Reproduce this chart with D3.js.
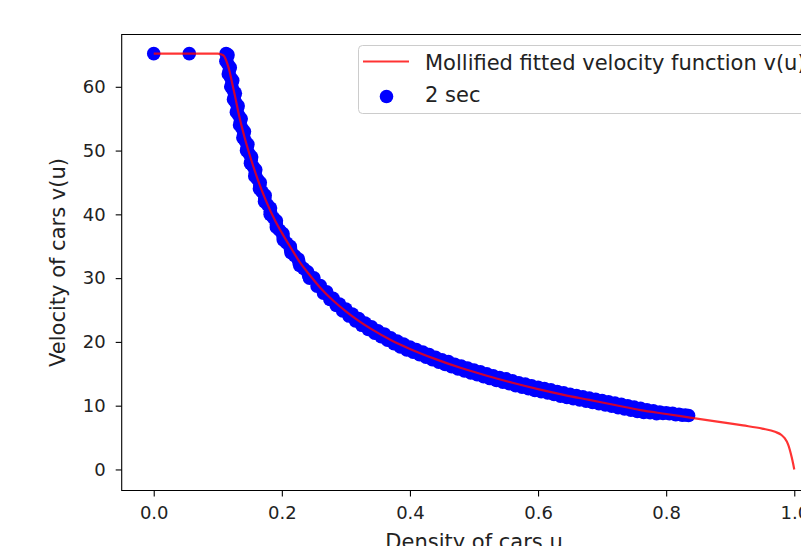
<!DOCTYPE html>
<html>
<head>
<meta charset="utf-8">
<script src="https://cdn.jsdelivr.net/npm/d3@7"></script>
<style>
  body { margin: 0; background: #fff; }
  svg { display: block; font-family: "DejaVu Sans", sans-serif; }
</style>
</head>
<body>
<div id="chart"></div>
<script>
let densityPts = [0.0, 0.0555,
    0.113, 0.116, 0.1127, 0.1195, 0.1164, 0.1233, 0.1203, 0.1274, 0.1246, 0.1318, 0.1291,
    0.1365, 0.134, 0.1416, 0.1392, 0.147, 0.1449, 0.1529, 0.151, 0.1593, 0.1577, 0.1663,
    0.165, 0.1739, 0.173, 0.1823, 0.1818, 0.1915, 0.1914, 0.2017, 0.2022, 0.2131, 0.2143,
    0.2258, 0.2278, 0.2402, 0.2432,
    0.1143, 0.1161, 0.1179, 0.1198, 0.1218, 0.1239, 0.126, 0.1282, 0.1304, 0.1328, 0.1352,
    0.1378, 0.1404, 0.1431, 0.1459, 0.1489, 0.152, 0.1552, 0.1585, 0.162, 0.1656, 0.1694,
    0.1734, 0.1776, 0.182, 0.1866, 0.1914, 0.1965, 0.2019, 0.2076, 0.2136, 0.22, 0.2268,
    0.234, 0.2416,
    0.25, 0.255, 0.26, 0.265, 0.27, 0.275, 0.28, 0.285, 0.29, 0.295, 0.3, 0.305, 0.31, 0.315,
    0.32, 0.325, 0.33, 0.335, 0.34, 0.345, 0.35, 0.355, 0.36, 0.365, 0.37, 0.375, 0.38, 0.385,
    0.39, 0.395, 0.4, 0.405, 0.41, 0.415, 0.42, 0.425, 0.43, 0.435, 0.44, 0.445, 0.45, 0.455,
    0.46, 0.465, 0.47, 0.475, 0.48, 0.485, 0.49, 0.495, 0.5, 0.505, 0.51, 0.515, 0.52, 0.525,
    0.53, 0.535, 0.54, 0.545, 0.55, 0.555, 0.56, 0.565, 0.57, 0.575, 0.58, 0.585, 0.59, 0.595,
    0.6, 0.605, 0.61, 0.615, 0.62, 0.625, 0.63, 0.635, 0.64, 0.645, 0.65, 0.655, 0.66, 0.665,
    0.67, 0.675, 0.68, 0.685, 0.69, 0.695, 0.7, 0.705, 0.71, 0.715, 0.72, 0.725, 0.73, 0.735,
    0.74, 0.745, 0.75, 0.755, 0.76, 0.765, 0.77, 0.775, 0.78, 0.785, 0.79, 0.795, 0.8, 0.805,
    0.81, 0.815, 0.82, 0.825, 0.83, 0.835];
let velocityPts = [65.2, 65.2,
    65.2, 65.0, 64.0, 63.0, 62.0, 61.0, 60.0, 59.0, 58.0, 57.0, 56.0,
    55.0, 54.0, 53.0, 52.0, 51.0, 50.0, 49.0, 48.0, 47.0, 46.0, 45.0,
    44.0, 43.0, 42.0, 41.0, 40.0, 39.0, 38.0, 37.0, 36.0, 35.0, 34.0,
    33.0, 32.0, 31.0, 30.0,
    64.5, 63.5, 62.5, 61.5, 60.5, 59.5, 58.5, 57.5, 56.5, 55.5, 54.5,
    53.5, 52.5, 51.5, 50.5, 49.5, 48.5, 47.5, 46.5, 45.5, 44.5, 43.5,
    42.5, 41.5, 40.5, 39.5, 38.5, 37.5, 36.5, 35.5, 34.5, 33.5, 32.5,
    31.5, 30.5,
    30.05, 28.75, 28.85, 27.65, 27.85, 26.65, 26.85, 25.7, 25.95, 24.85, 25.15, 24.05, 24.35, 23.3,
    23.65, 22.6, 22.95, 21.95, 22.35, 21.35, 21.75, 20.8, 21.25, 20.25, 20.65, 19.7, 20.15, 19.2,
    19.65, 18.75, 19.2, 18.4, 18.8, 18.0, 18.4, 17.6, 18.0, 17.2, 17.6, 16.8, 17.2, 16.45,
    16.9, 16.1, 16.5, 15.75, 16.2, 15.45, 15.9, 15.15, 15.6, 14.85, 15.3, 14.55, 15.0, 14.25,
    14.7, 13.95, 14.4, 13.7, 14.2, 13.45, 13.9, 13.15, 13.6, 12.9, 13.4, 12.65, 13.1, 12.4,
    12.9, 12.2, 12.7, 12.0, 12.5, 11.75, 12.2, 11.5, 12.0, 11.3, 11.8, 11.1, 11.6, 10.9,
    11.4, 10.7, 11.2, 10.5, 11.0, 10.3, 10.8, 10.1, 10.6, 9.9, 10.4, 9.7, 10.2, 9.5,
    10.0, 9.3, 9.8, 9.1, 9.6, 8.95, 9.35, 8.9, 9.2, 8.75, 9.0, 8.8, 8.9, 8.75,
    8.8, 8.6, 8.65, 8.5, 8.55, 8.45];

/** mollified fitted velocity function */
let curveU = [0.0, 0.05, 0.1, 0.105, 0.109, 0.112, 0.115, 0.118, 0.122, 0.127, 0.133, 0.142,
    0.152, 0.163, 0.175, 0.19, 0.2, 0.215, 0.228, 0.245, 0.26, 0.28, 0.3, 0.32, 0.34, 0.37,
    0.4, 0.44, 0.48, 0.52, 0.56, 0.6, 0.64, 0.68, 0.72, 0.76, 0.8, 0.84, 0.88, 0.92, 0.95,
    0.97, 0.98, 0.985, 0.99, 0.993, 0.996, 0.998, 1.0];
let curveV = [65.2, 65.2, 65.2, 65.1, 64.9, 64.4, 63.6, 62.6, 60.8, 58.5, 55.6, 52.0,
    48.6, 45.3, 42.2, 38.9, 37.1, 34.6, 32.5, 30.3, 28.5, 26.5, 24.8, 23.3, 22.0, 20.3,
    18.9, 17.3, 15.9, 14.7, 13.6, 12.6, 11.7, 10.9, 10.1, 9.3, 8.7, 8.1, 7.5, 6.9, 6.4,
    5.9, 5.4, 4.9, 4.0, 3.1, 1.9, 1.0, 0.0];

let xTicks = [0.0, 0.2, 0.4, 0.6, 0.8, 1.0];
let yTicks = [0, 10, 20, 30, 40, 50, 60];

let width = 801, height = 546;
let tickFont = '18px', labelFont = '21px';

let svg = d3.select('#chart').append('svg')
    .attr('width', width)
    .attr('height', height);

/** scales: right spine lies outside the picture */
let xScale = d3.scaleLinear().domain([-0.05, 1.05]).range([121.7, 826.3]);
let yScale = d3.scaleLinear().domain([-3.3, 68.2]).range([490.5, 34.5]);

svg.append('defs').append('clipPath').attr('id', 'plotClip')
    .append('rect')
    .attr('x', xScale.range()[0]).attr('y', yScale.range()[1])
    .attr('width', xScale.range()[1] - xScale.range()[0])
    .attr('height', yScale.range()[0] - yScale.range()[1]);

let plot = svg.append('g').attr('clip-path', 'url(#plotClip)');

/** scatter points */
let pts = densityPts.map((u, i) => ({ u: u, v: velocityPts[i] }));
plot.selectAll('.dot')
    .data(pts)
    .enter()
    .append('circle')
    .attr('class', 'dot')
    .attr('cx', d => xScale(d.u))
    .attr('cy', d => yScale(d.v))
    .attr('r', 6.8)
    .attr('fill', '#0000ff');

/** fitted line on top */
let line = d3.line()
    .x(d => xScale(d[0]))
    .y(d => yScale(d[1]))
    .curve(d3.curveMonotoneX);

plot.append('path')
    .datum(curveU.map((u, i) => [u, curveV[i]]))
    .attr('d', line)
    .attr('fill', 'none')
    .attr('stroke', '#ff0000')
    .attr('stroke-opacity', 0.8)
    .attr('stroke-width', 2.2);

/** axes */
let xAxis = d3.axisBottom(xScale).tickValues(xTicks).tickFormat(d3.format('.1f'))
    .tickSize(6).tickPadding(10);
let yAxis = d3.axisLeft(yScale).tickValues(yTicks).tickFormat(d3.format('d'))
    .tickSize(6).tickPadding(10);

let gx = svg.append('g')
    .attr('transform', `translate(0, ${yScale.range()[0]})`)
    .call(xAxis);
let gy = svg.append('g')
    .attr('transform', `translate(${xScale.range()[0]}, 0)`)
    .call(yAxis);

[gx, gy].forEach(g => {
    g.select('.domain').remove();
    g.selectAll('.tick line').attr('stroke', '#000').attr('stroke-width', 1.1);
    g.selectAll('.tick text').attr('fill', '#222').style('font-size', tickFont)
        .style('font-family', '"DejaVu Sans", sans-serif');
});

/** spines: left, top, bottom */
let x0 = xScale.range()[0], x1 = xScale.range()[1];
let y0 = yScale.range()[1], y1 = yScale.range()[0];
svg.append('path')
    .attr('d', `M${x1},${y0}H${x0}V${y1}H${x1}`)
    .attr('fill', 'none')
    .attr('stroke', '#000')
    .attr('stroke-width', 1.1);

/** axis labels */
svg.append('text')
    .attr('x', (x0 + x1) / 2)
    .attr('y', 549)
    .attr('text-anchor', 'middle')
    .attr('fill', '#222')
    .style('font-size', labelFont)
    .text('Density of cars u');

svg.append('text')
    .attr('transform', `translate(65, ${(y0 + y1) / 2}) rotate(-90)`)
    .attr('text-anchor', 'middle')
    .attr('fill', '#222')
    .style('font-size', labelFont)
    .text('Velocity of cars v(u)');

/** legend */
let legend = svg.append('g');
legend.append('rect')
    .attr('x', 358.5).attr('y', 45.5)
    .attr('width', 470).attr('height', 68)
    .attr('rx', 4)
    .attr('fill', '#fff').attr('fill-opacity', 0.8)
    .attr('stroke', '#cccccc');
legend.append('line')
    .attr('x1', 363).attr('x2', 409)
    .attr('y1', 61.5).attr('y2', 61.5)
    .attr('stroke', '#ff0000').attr('stroke-opacity', 0.8)
    .attr('stroke-width', 2.2);
legend.append('text')
    .attr('x', 425).attr('y', 69.5)
    .attr('fill', '#222')
    .style('font-size', labelFont)
    .text('Mollified fitted velocity function v(u)');
legend.append('circle')
    .attr('cx', 386.5).attr('cy', 96.5)
    .attr('r', 6.8)
    .attr('fill', '#0000ff');
legend.append('text')
    .attr('x', 425).attr('y', 102)
    .attr('fill', '#222')
    .style('font-size', labelFont)
    .text('2 sec');
</script>
</body>
</html>
